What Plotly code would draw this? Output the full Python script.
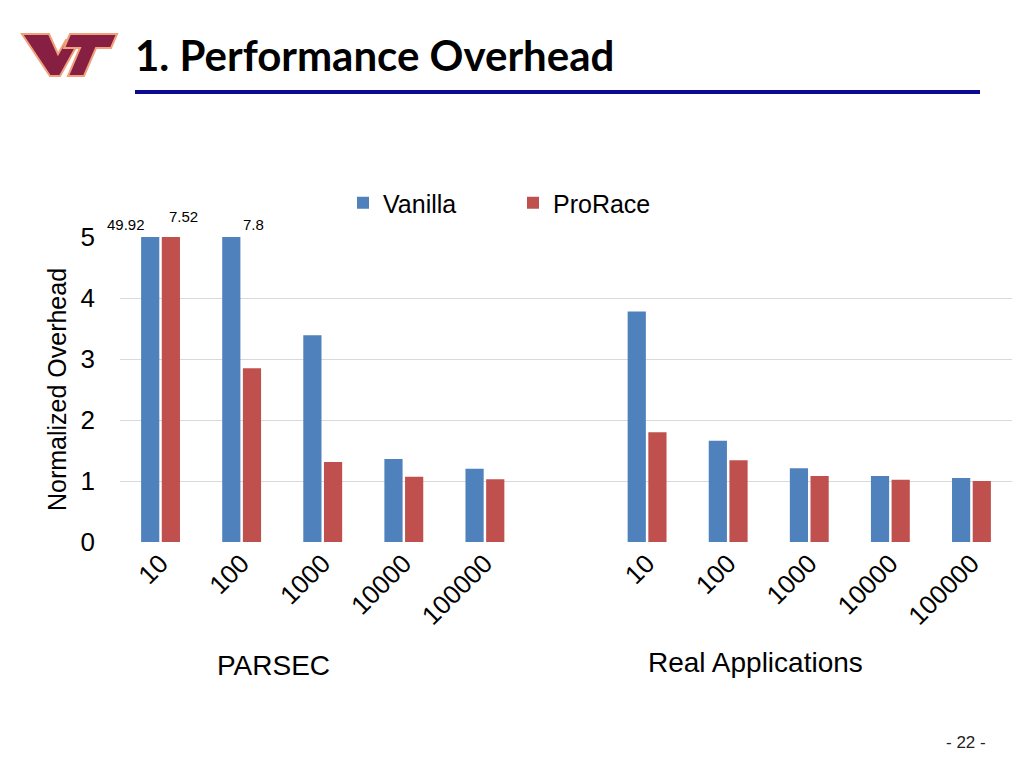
import plotly.graph_objects as go

# ---- data ----
thresholds = ["10", "100", "1000", "10000", "100000"]
groups = ["PARSEC", "Real Applications"]
parsec_vanilla = [49.92, 7.8, 3.39, 1.36, 1.20]
parsec_prorace = [7.52, 2.85, 1.31, 1.07, 1.03]
real_vanilla = [3.78, 1.66, 1.21, 1.08, 1.05]
real_prorace = [1.80, 1.34, 1.08, 1.02, 1.00]
y_ticks = [0, 1, 2, 3, 4, 5]
y_max = 5

BLUE = "#4f81bd"
RED = "#c0504d"
W, H = 1024, 768
OFF = 8  # page body margin offset (screen px)


def px(x):
    return (x - OFF) / W


def py(y):
    return 1 - (y - OFF) / H


# x positions: PARSEC slots 0..4, a blank slot, Real Apps slots 6..10
n = len(thresholds)
pos_parsec = list(range(n))
pos_real = [i + n + 1 for i in range(n)]
xs = pos_parsec + pos_real

fig = go.Figure()
fig.add_trace(go.Bar(name="Vanilla", x=xs, y=parsec_vanilla + real_vanilla,
                     marker=dict(color=BLUE, line=dict(width=0))))
fig.add_trace(go.Bar(name="ProRace", x=xs, y=parsec_prorace + real_prorace,
                     marker=dict(color=RED, line=dict(width=0))))

# labels for bars clipped by the axis range
label_offsets = {("Vanilla", 0): (-23, 12), ("ProRace", 0): (12, 20), ("Vanilla", 1): (23, 12)}
bar_w = 0.25
for name, vals, dx in (("Vanilla", parsec_vanilla + real_vanilla, -bar_w / 2 - 0.015),
                       ("ProRace", parsec_prorace + real_prorace, bar_w / 2 + 0.015)):
    for i, v in enumerate(vals):
        if v > y_max:
            xo, yo = label_offsets.get((name, i), (0, 12))
            fig.add_annotation(x=xs[i] + dx, y=y_max, text=f"{v:g}", showarrow=False,
                               xshift=xo, yshift=yo, xanchor="center", yanchor="middle",
                               font=dict(family="Liberation Sans", size=15, color="#000"))

FONT = "Liberation Sans"
fig.update_layout(
    width=W, height=H,
    margin=dict(l=0, r=0, t=0, b=0, autoexpand=False),
    paper_bgcolor="white", plot_bgcolor="white",
    barmode="group", bargap=0.49, bargroupgap=0.12,
    font=dict(family=FONT, color="#000"),
    showlegend=True,
    legend=dict(orientation="h", x=px(343), y=py(180), xanchor="left", yanchor="top",
                entrywidth=125, entrywidthmode="pixels",
                font=dict(family=FONT, size=25, color="#000"),
                bgcolor="rgba(0,0,0,0)", itemwidth=30),
    xaxis=dict(domain=[px(120), px(1012)], range=[-0.5, 2 * n + 0.5], automargin=False,
               tickmode="array", tickvals=xs, ticktext=thresholds + thresholds,
               tickangle=-45, tickfont=dict(family=FONT, size=26, color="#000"),
               showgrid=False, zeroline=False, showline=False, ticks=""),
    yaxis=dict(domain=[py(542), py(237)], range=[0, y_max], automargin=False,
               tickmode="array", tickvals=y_ticks,
               tickfont=dict(family=FONT, size=26, color="#000"),
               showgrid=True, gridcolor="#d9d9d9", gridwidth=1,
               zeroline=False, showline=False, ticks="",
               ticklabelstandoff=24,
               title=dict(text="Normalized Overhead", standoff=6,
                          font=dict(family=FONT, size=25, color="#000"))),
)


def label(x, y, text, size, family=FONT, color="#000", xanchor="center"):
    fig.add_annotation(x=px(x), y=py(y), xref="paper", yref="paper", text=text,
                       xanchor=xanchor, yanchor="middle", showarrow=False,
                       font=dict(family=family, size=size, color=color))


# group labels
label(273, 665, groups[0], 28)
label(755, 662, groups[1], 28)

# slide title
label(133, 55, "<b>1. Performance Overhead</b>", 42, family="Lato", xanchor="left")
# title underline
fig.add_shape(type="line", xref="paper", yref="paper", x0=px(135), x1=px(980),
              y0=py(92), y1=py(92), line=dict(color="#0a0a96", width=4))

# page number
label(966, 742, "- 22 -", 17, color="#222")


# VT logo (decorative)
def poly(pts):
    return "M " + " L ".join(f"{px(a):.5f},{py(b):.5f}" for a, b in pts) + " Z"


v_pts = [(22, 34), (49, 34), (58, 54), (66, 40), (80, 40), (60, 76), (50, 76)]
t_pts = [(70, 34), (117, 34), (111, 48), (96, 48), (84, 76), (68, 76), (80, 48), (64, 48)]
for pts in (v_pts, t_pts):
    fig.add_shape(type="path", xref="paper", yref="paper", path=poly(pts),
                  fillcolor="#861f41", line=dict(color="#f0a07a", width=2))

fig.write_html("out.html")
